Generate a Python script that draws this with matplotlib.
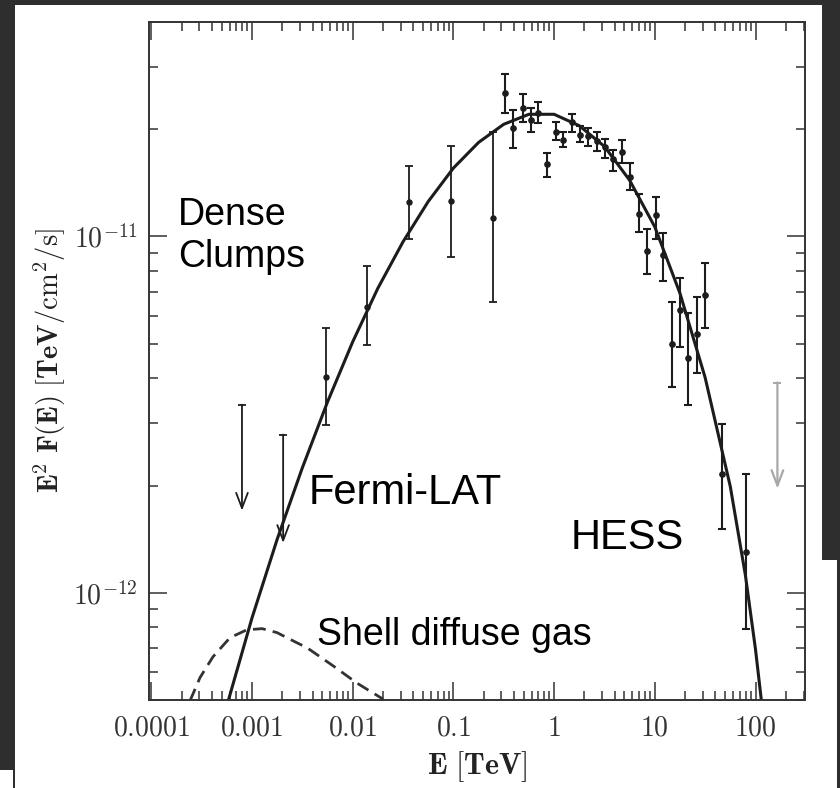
import matplotlib
matplotlib.use("Agg")
import numpy as np
from matplotlib import pyplot as plt
from matplotlib.patches import Rectangle

plt.rcParams['mathtext.fontset'] = 'cm'

# model curve (dense clumps)
model_e = [5.75e-4, 1.0e-3, 1.78e-3, 3.16e-3, 5.62e-3, 1.0e-2, 1.78e-2, 3.16e-2,
           5.62e-2, 0.1, 0.178, 0.316, 0.562, 1.0, 1.78, 3.16, 5.62, 10.0,
           17.8, 31.6, 56.2, 79.4, 100.0, 117.5]
model_f = [4.92e-13, 8.49e-13, 1.413e-12, 2.24e-12, 3.43e-12, 5.06e-12, 7.16e-12, 9.66e-12,
           1.253e-11, 1.556e-11, 1.837e-11, 2.065e-11, 2.203e-11, 2.203e-11, 2.046e-11,
           1.79e-11, 1.439e-11, 1.064e-11, 6.92e-12, 4.02e-12, 1.986e-12, 1.119e-12,
           6.93e-13, 4.66e-13]

# shell diffuse gas (dashed)
shell_e = [2.43e-4, 3.05e-4, 4.1e-4, 6.05e-4, 8.9e-4, 1.26e-3, 1.77e-3, 2.79e-3,
           3.52e-3, 6.37e-3, 1.1e-2, 2.0e-2]
shell_f = [4.98e-13, 5.78e-13, 6.61e-13, 7.48e-13, 7.87e-13, 7.93e-13, 7.73e-13, 7.24e-13,
           7.01e-13, 6.24e-13, 5.58e-13, 5.03e-13]

# Fermi-LAT points
fermi_e = [5.42e-3, 1.38e-2, 3.61e-2, 9.42e-2, 0.246]
fermi_f = [4.04e-12, 6.32e-12, 1.246e-11, 1.254e-11, 1.13e-11]
fermi_lo = [2.96e-12, 4.97e-12, 9.87e-12, 8.78e-12, 6.53e-12]
fermi_hi = [5.52e-12, 8.24e-12, 1.573e-11, 1.79e-11, 1.97e-11]

# Fermi-LAT upper limits
ful_e = [7.96e-4, 2.04e-3]
ful_top = [3.37e-12, 2.78e-12]
ful_tip = [1.70e-12, 1.38e-12]

# HESS points
hess_e = [0.324, 0.388, 0.488, 0.586, 0.687, 0.845, 1.04, 1.22, 1.50, 1.79, 2.15, 2.65,
          3.18, 3.81, 4.69, 5.62, 6.90, 8.29, 10.2, 12.2, 14.7, 17.6, 21.6, 26.0, 31.2,
          46.0, 79.6]
hess_f = [2.52e-11, 2.01e-11, 2.29e-11, 2.13e-11, 2.22e-11, 1.60e-11, 1.97e-11, 1.87e-11,
          2.09e-11, 1.93e-11, 1.92e-11, 1.85e-11, 1.78e-11, 1.65e-11, 1.73e-11, 1.47e-11,
          1.16e-11, 9.13e-12, 1.146e-11, 8.85e-12, 5.0e-12, 6.2e-12, 4.57e-12, 5.34e-12,
          6.83e-12, 2.15e-12, 1.30e-12]
hess_lo = [2.22e-11, 1.77e-11, 2.09e-11, 1.96e-11, 2.08e-11, 1.47e-11, 1.87e-11, 1.78e-11,
           1.97e-11, 1.84e-11, 1.80e-11, 1.74e-11, 1.66e-11, 1.53e-11, 1.61e-11, 1.35e-11,
           1.03e-11, 7.87e-12, 9.87e-12, 7.52e-12, 3.79e-12, 4.91e-12, 3.37e-12, 4.15e-12,
           5.52e-12, 1.51e-12, 7.93e-13]
hess_hi = [2.85e-11, 2.26e-11, 2.51e-11, 2.29e-11, 2.38e-11, 1.72e-11, 2.09e-11, 1.97e-11,
           2.20e-11, 2.04e-11, 2.01e-11, 1.96e-11, 1.88e-11, 1.75e-11, 1.86e-11, 1.61e-11,
           1.32e-11, 1.05e-11, 1.29e-11, 1.026e-11, 6.53e-12, 7.67e-12, 6.11e-12, 6.78e-12,
           8.45e-12, 2.98e-12, 2.15e-12]

# HESS upper limit (grey)
hul_e = [165.0]
hul_top = [3.89e-12]
hul_tip = [1.96e-12]

xtick_vals = [1e-4, 1e-3, 1e-2, 1e-1, 1, 10, 100]
xtick_labels = [r'$0.0001$', r'$0.001$', r'$0.01$', r'$0.1$', r'$1$', r'$10$', r'$100$']
ytick_vals = [1e-12, 1e-11]
ytick_labels = [r'$10^{-12}$', r'$10^{-11}$']

ink = '#1c1c1c'

fig = plt.figure(figsize=(8.4, 7.88), dpi=100)
fig.patch.set_facecolor('white')
ax = fig.add_axes([149/840, 88/788, 656/840, 678/788])

ax.plot(model_e, model_f, color=ink, lw=2.2, solid_joinstyle='round')
ax.plot(shell_e, shell_f, color='#333333', lw=2.0, dashes=(4.6, 2.6))


def errs(f, lo, hi):
    f = np.array(f)
    return [f - np.array(lo), np.array(hi) - f]


ax.errorbar(fermi_e, fermi_f, yerr=errs(fermi_f, fermi_lo, fermi_hi), fmt='o', ms=3.6,
            color=ink, elinewidth=1.3, capsize=2.9, capthick=1.3)
ax.errorbar(hess_e, hess_f, yerr=errs(hess_f, hess_lo, hess_hi), fmt='o', ms=3.8,
            color=ink, elinewidth=1.5, capsize=2.9, capthick=1.5)

for e, top, tip in zip(ful_e, ful_top, ful_tip):
    ax.plot([e], [top], marker='_', ms=6, mew=1.3, color=ink)
    ax.annotate('', xy=(e, tip), xytext=(e, top),
                arrowprops=dict(arrowstyle='->,head_length=1.1,head_width=0.42',
                                color=ink, lw=1.3, shrinkA=0, shrinkB=0))
for e, top, tip in zip(hul_e, hul_top, hul_tip):
    ax.plot([e], [top], marker='_', ms=6, mew=1.5, color='#a8a8a8')
    ax.annotate('', xy=(e, tip), xytext=(e, top),
                arrowprops=dict(arrowstyle='->,head_length=1.1,head_width=0.42',
                                color='#a8a8a8', lw=1.6, shrinkA=0, shrinkB=0))

ax.set_xscale('log')
ax.set_yscale('log')
ax.set_xlim(0.95e-4, 310)
ax.set_ylim(5e-13, 4e-11)
ax.set_xticks(xtick_vals, xtick_labels)
ax.set_yticks(ytick_vals, ytick_labels)
ax.xaxis.set_minor_formatter(matplotlib.ticker.NullFormatter())
ax.yaxis.set_minor_formatter(matplotlib.ticker.NullFormatter())
ax.tick_params(which='both', direction='in', top=True, right=True, color='#333333')
ax.tick_params(which='major', length=13, width=1.1)
ax.tick_params(which='minor', length=6.5, width=1.1)
ax.tick_params(axis='x', which='major', labelsize=20, pad=10, labelcolor='#333333')
ax.tick_params(axis='y', which='major', labelsize=20, pad=8, labelcolor='#333333')
for s in ax.spines.values():
    s.set_linewidth(1.4)
    s.set_color('#333333')

ax.set_xlabel(r'$\mathbf{E}\ [\mathbf{TeV}]$', fontsize=21.5, labelpad=5, color='#222222')
ax.set_ylabel(r'$\mathbf{E}^2\ \mathbf{F(E)}\ [\mathbf{TeV}/\mathrm{cm}^2/\mathrm{s}]$',
              fontsize=20.5, labelpad=4, color='#222222')

sans = ['Liberation Sans', 'DejaVu Sans']
ax.text(0.044, 0.7006, 'Dense', transform=ax.transAxes, fontsize=27, family=sans, va='baseline')
ax.text(0.044, 0.6386, 'Clumps', transform=ax.transAxes, fontsize=27, family=sans, va='baseline')
ax.text(0.244, 0.289, 'Fermi-LAT', transform=ax.transAxes, fontsize=30, family=sans, va='baseline')
ax.text(0.642, 0.2227, 'HESS', transform=ax.transAxes, fontsize=30, family=sans, va='baseline')
ax.text(0.256, 0.0811, 'Shell diffuse gas', transform=ax.transAxes, fontsize=27, family=sans,
        va='baseline')

# dark screenshot border
dark = '#2e2e2e'
fig.add_artist(Rectangle((0, 18/788), 15/840, 770/788, transform=fig.transFigure, color=dark, lw=0))
fig.add_artist(Rectangle((13/840, 0), 2/840, 18/788, transform=fig.transFigure, color=dark, lw=0))
fig.add_artist(Rectangle((0, 783/788), 1, 5/788, transform=fig.transFigure, color=dark, lw=0))
fig.add_artist(Rectangle((822/840, 228/788), 18/840, 560/788, transform=fig.transFigure, color=dark, lw=0))
fig.add_artist(Rectangle((837/840, 0), 3/840, 228/788, transform=fig.transFigure, color=dark, lw=0))

fig.savefig('out.png', dpi=100)
